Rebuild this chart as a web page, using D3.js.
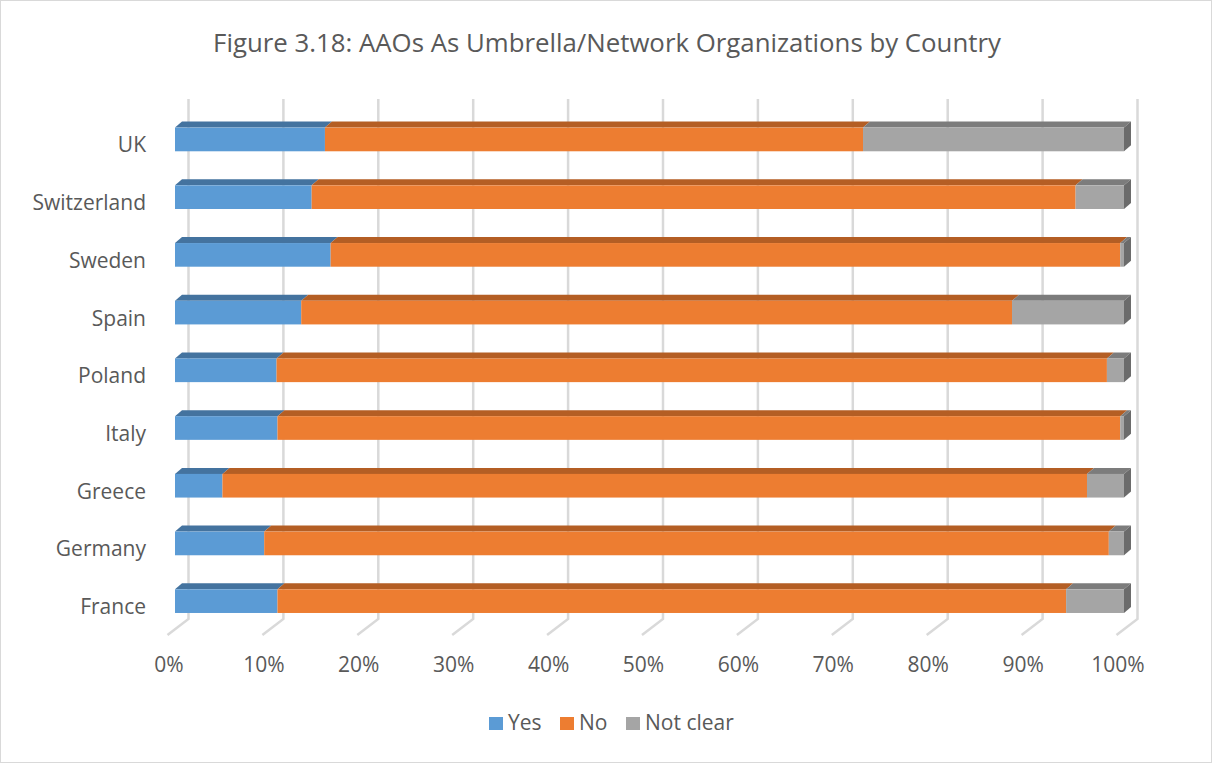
<!DOCTYPE html>
<html>
<head>
<meta charset="utf-8">
<script src="https://cdn.jsdelivr.net/npm/d3@7"></script>
<style>
  body { margin: 0; background: #fff; }
  svg { display: block; font-family: "Open Sans", sans-serif; }
</style>
</head>
<body>
<svg id="chart" width="1212" height="763"></svg>
<script>
// data (percent of AAOs per country)
var countries = ['UK', 'Switzerland', 'Sweden', 'Spain', 'Poland', 'Italy', 'Greece', 'Germany', 'France'];
var yesVals = [15.8, 14.4, 16.4, 13.3, 10.7, 10.8, 5.0, 9.4, 10.8];
var noVals = [56.7, 80.5, 83.2, 74.9, 87.5, 88.8, 91.1, 89.0, 83.1];
var notClearVals = [27.5, 5.1, 0.4, 11.8, 1.8, 0.4, 3.9, 1.6, 6.1];
var seriesNames = ['Yes', 'No', 'Not clear'];
var tickVals = [0, 10, 20, 30, 40, 50, 60, 70, 80, 90, 100];

var colors = {
    front: ['#5b9bd5', '#ed7d31', '#a5a5a5'],
    top: ['#44739f', '#b45e24', '#7c7c7c'],
    side: ['#3b6590', '#9c5220', '#6b6b6b']
};

var svg = d3.select('#chart');

// outer border
svg.append('rect')
    .attr('x', 0.5).attr('y', 0.5)
    .attr('width', 1211).attr('height', 762)
    .attr('fill', '#fff')
    .attr('stroke', '#d9d9d9');

// title
svg.append('text')
    .attr('x', 607).attr('y', 52)
    .attr('text-anchor', 'middle')
    .attr('fill', '#595959')
    .style('font-size', '25.8px')
    .text('Figure 3.18: AAOs As Umbrella/Network Organizations by Country');

var x = d3.scaleLinear().domain([0, 100]).range([175, 1124]);
var y = d3.scaleBand().domain(countries).range([110.6, 630])
    .paddingInner(0.59).paddingOuter(0.295);

// 3d offsets
var wallDx = 13.5, floorDx = -21, floorDy = 16;
var gridTop = 99, gridBottom = 619;
var barDx = 7, barDy = 6;

// gridlines on back wall + floor
var grid = svg.append('g').attr('stroke', '#d9d9d9').attr('stroke-width', 2.5).attr('fill', 'none');
tickVals.forEach(function (v) {
    var bx = x(v) + wallDx;
    grid.append('path')
        .attr('d', 'M' + bx + ',' + gridTop + 'L' + bx + ',' + gridBottom +
            'L' + (bx + floorDx) + ',' + (gridBottom + floorDy));
});

// tick labels
svg.append('g').selectAll('text')
    .data(tickVals).enter()
    .append('text')
    .attr('x', function (d) { return x(d) - 6; })
    .attr('y', 672)
    .attr('text-anchor', 'middle')
    .attr('fill', '#595959')
    .style('font-size', '21px')
    .text(function (d) { return d + '%'; });

// category labels
svg.append('g').selectAll('text')
    .data(countries).enter()
    .append('text')
    .attr('x', 146)
    .attr('y', function (d) { return y(d) + y.bandwidth() / 2 + 13; })
    .attr('text-anchor', 'end')
    .attr('fill', '#595959')
    .style('font-size', '21px')
    .text(function (d) { return d; });

// stacked bars
var rows = countries.map(function (c, i) {
    return { country: c, vals: [yesVals[i], noVals[i], notClearVals[i]] };
});

var bars = svg.append('g');
rows.forEach(function (r) {
    var y0 = y(r.country), h = y.bandwidth();
    var acc = 0;
    r.vals.forEach(function (v, s) {
        var x0 = x(acc), x1 = x(acc + v);
        acc += v;
        var g = bars.append('g');
        // top face
        g.append('path')
            .attr('d', 'M' + x0 + ',' + y0 + 'L' + (x0 + barDx) + ',' + (y0 - barDy) +
                'L' + (x1 + barDx) + ',' + (y0 - barDy) + 'L' + x1 + ',' + y0 + 'Z')
            .attr('fill', colors.top[s]);
        // front face
        g.append('rect')
            .attr('x', x0).attr('y', y0)
            .attr('width', Math.max(0, x1 - x0)).attr('height', h)
            .attr('fill', colors.front[s]);
        // right side on the last segment
        if (s === r.vals.length - 1) {
            g.append('path')
                .attr('d', 'M' + x1 + ',' + y0 + 'L' + (x1 + barDx) + ',' + (y0 - barDy) +
                    'L' + (x1 + barDx) + ',' + (y0 + h - barDy) + 'L' + x1 + ',' + (y0 + h) + 'Z')
                .attr('fill', colors.side[s]);
        }
    });
});

// legend
var legendX = [489, 560, 626];
var legend = svg.append('g').selectAll('g')
    .data(seriesNames).enter()
    .append('g')
    .attr('transform', function (d, i) { return 'translate(' + legendX[i] + ',717)'; });
legend.append('rect')
    .attr('width', 14).attr('height', 13)
    .attr('fill', function (d, i) { return colors.front[i]; });
legend.append('text')
    .attr('x', 19).attr('y', 13)
    .attr('fill', '#595959')
    .style('font-size', '21px')
    .text(function (d) { return d; });
</script>
</body>
</html>
